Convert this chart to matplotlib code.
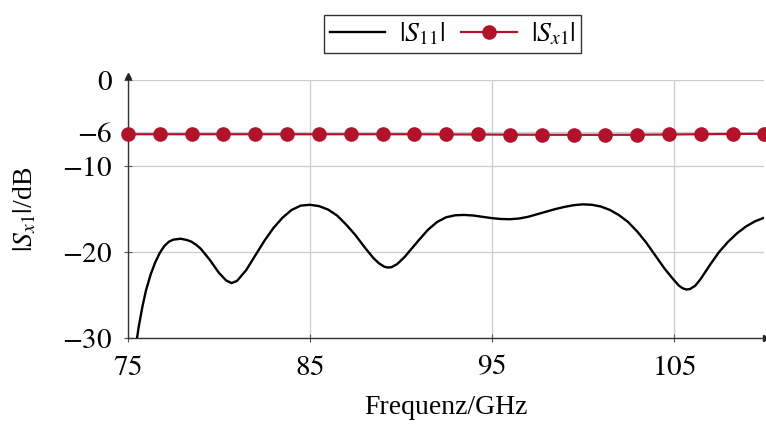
import matplotlib
matplotlib.use("Agg")
import matplotlib.pyplot as plt
import numpy as np

plt.rcParams['font.family'] = ['Liberation Serif', 'DejaVu Serif']
plt.rcParams['mathtext.fontset'] = 'stix'
plt.rcParams['axes.unicode_minus'] = True

# |S11|
f_s11 = [75.5, 75.6, 75.8, 76.0, 76.25, 76.5, 76.75, 77.0, 77.25, 77.5, 77.9, 78.25, 78.5,
         78.75, 79.0, 79.5, 80.0, 80.4, 80.7, 81.0, 81.5, 82.0, 82.5, 83.0, 83.5, 84.0,
         84.5, 85.0, 85.5, 86.0, 86.5, 87.0, 87.5, 88.0, 88.5, 88.8, 89.1, 89.3, 89.5,
         89.8, 90.2, 90.6, 91.0, 91.5, 92.0, 92.5, 93.0, 93.5, 94.0, 94.5, 95.0, 95.5,
         96.0, 96.5, 97.0, 97.5, 98.0, 98.5, 99.0, 99.5, 100.0, 100.5, 101.0, 101.5,
         102.0, 102.5, 103.0, 103.5, 104.0, 104.5, 105.0, 105.3, 105.5, 105.7, 105.9,
         106.2, 106.5, 107.0, 107.5, 108.0, 108.5, 109.0, 109.5, 110.0]
s11 = [-30.0, -28.6, -26.3, -24.4, -22.6, -21.2, -20.1, -19.3, -18.8, -18.55, -18.45, -18.6, -18.8,
       -19.15, -19.6, -20.9, -22.4, -23.3, -23.6, -23.35, -22.1, -20.4, -18.7, -17.2, -16.0, -15.1,
       -14.6, -14.5, -14.65, -15.05, -15.75, -16.8, -18.0, -19.4, -20.7, -21.3, -21.7, -21.8, -21.75,
       -21.4, -20.6, -19.6, -18.6, -17.4, -16.5, -15.95, -15.72, -15.68, -15.75, -15.9, -16.05, -16.15,
       -16.18, -16.1, -15.9, -15.6, -15.3, -15.0, -14.75, -14.55, -14.45, -14.5, -14.7, -15.1,
       -15.7, -16.5, -17.6, -18.9, -20.4, -21.9, -23.2, -23.9, -24.2, -24.35, -24.3,
       -23.9, -23.1, -21.5, -20.0, -18.8, -17.8, -17.0, -16.4, -16.0]

# |Sx1| markers
f_sx1 = [75.0, 76.75, 78.5, 80.25, 82.0, 83.75, 85.5, 87.25, 89.0, 90.75, 92.5,
         94.25, 96.0, 97.75, 99.5, 101.25, 103.0, 104.75, 106.5, 108.25, 110.0]
sx1 = [-6.3, -6.3, -6.3, -6.3, -6.3, -6.3, -6.3, -6.3, -6.3, -6.3, -6.32,
       -6.33, -6.35, -6.36, -6.37, -6.37, -6.36, -6.33, -6.3, -6.27, -6.25]

xticks = [75, 85, 95, 105]
yticks = [0, -6, -10, -20, -30]

fig = plt.figure(figsize=(7.66, 4.28), dpi=100)
ax = fig.add_axes([0.167, 0.21, 0.831, 0.603])

ax.plot(f_s11, s11, color='black', lw=1.7, label=r'$|S_{11}|$', zorder=3,
        solid_joinstyle='round')
ax.plot(f_sx1, sx1, color='#B3122B', lw=1.6, marker='o', ms=9.5,
        label=r'$|S_{x1}|$', zorder=4, clip_on=False)

ax.set_xlim(75, 110)
ax.set_ylim(-30, 0)
ax.set_xticks(xticks)
ax.set_yticks(yticks)
ax.set_yticklabels([r'$0$' if v == 0 else r'$-%d$' % abs(v) for v in yticks])
ax.set_xticklabels([r'$%d$' % v for v in xticks])
ax.tick_params(direction='inout', length=6, width=0.8, color='#555555',
               labelsize=21)
ax.tick_params(axis='y', pad=8)
ax.tick_params(axis='x', pad=9)
ax.grid(True, color='#cccccc', lw=0.9, zorder=0)

for s in ['top', 'right']:
    ax.spines[s].set_visible(False)
for s in ['left', 'bottom']:
    ax.spines[s].set_color('#333333')
    ax.spines[s].set_linewidth(1.0)

# arrow heads on the axes
ax.plot(1.003, 0, '>', color='#222222', ms=5, transform=ax.transAxes, clip_on=False)
ax.plot(0, 1.015, '^', color='#222222', ms=5, transform=ax.transAxes, clip_on=False)

ax.set_xlabel('Frequenz/GHz', fontsize=20, labelpad=10)
ax.set_ylabel(r'$|S_{x1}|$/dB', fontsize=20, labelpad=17)

leg = ax.legend(loc='lower center', bbox_to_anchor=(0.51, 1.105), ncol=2,
                fontsize=20, frameon=True, fancybox=False, edgecolor='black',
                handlelength=2.0, handletextpad=0.5, columnspacing=0.6,
                borderpad=0.2, borderaxespad=0)
leg.get_frame().set_linewidth(1.0)

fig.savefig('out.png', dpi=100)
